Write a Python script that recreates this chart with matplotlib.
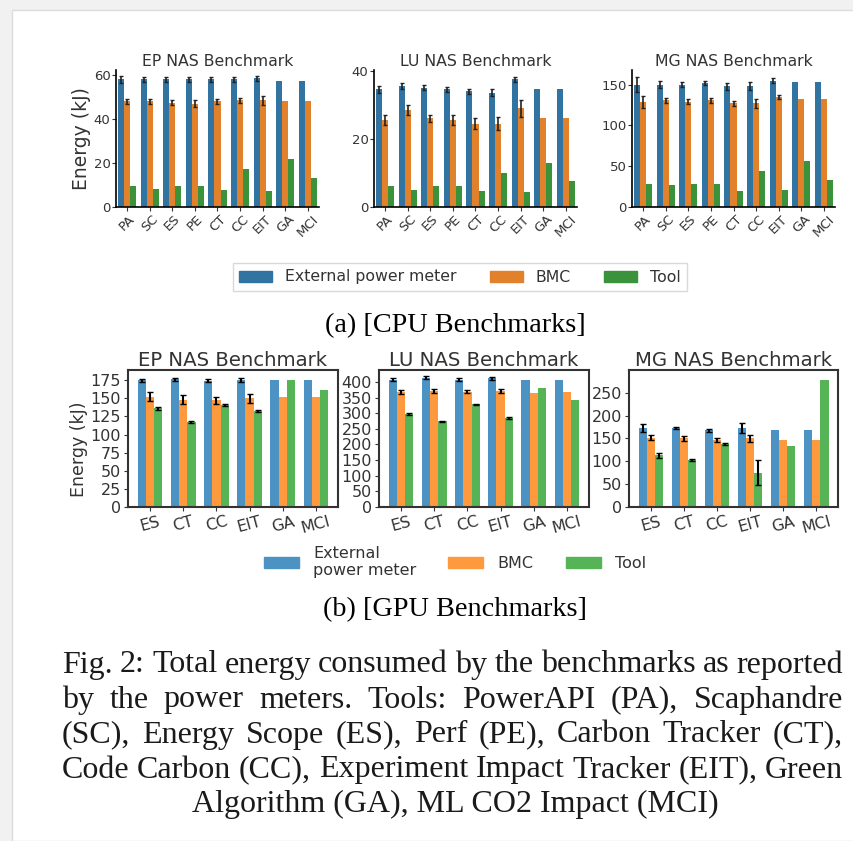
import numpy as np
import matplotlib
matplotlib.use('Agg')
import matplotlib.pyplot as plt
from matplotlib.patches import Patch, Rectangle

W, H = 854, 841

# ---- CPU benchmarks (kJ) ----
cpu_tools = ['PA', 'SC', 'ES', 'PE', 'CT', 'CC', 'EIT', 'GA', 'MCI']
cpu_titles = ['EP NAS Benchmark', 'LU NAS Benchmark', 'MG NAS Benchmark']

cpu_ep_ext = [58, 58, 58, 58, 58, 58, 58.5, 57.5, 57.5]
cpu_ep_bmc = [48, 48, 47.5, 47, 48, 48.5, 48.5, 48, 48]
cpu_ep_tool = [9.4, 8.4, 9.4, 9.4, 7.6, 17.5, 7.3, 22, 13]
cpu_ep_ext_err = [1.5, 1, 1, 1, 1, 1, 1]
cpu_ep_bmc_err = [1, 1, 1, 1.5, 1, 1, 2]

cpu_lu_ext = [34.5, 35.5, 35, 34.5, 34, 33.5, 37.5, 34.5, 34.5]
cpu_lu_bmc = [25.5, 28.5, 26, 25.5, 24.5, 24.5, 29, 26, 26]
cpu_lu_tool = [6.3, 5, 6.3, 6.3, 4.6, 10, 4.3, 13, 7.7]
cpu_lu_ext_err = [1, 1, 0.7, 0.7, 0.7, 1, 0.7]
cpu_lu_bmc_err = [1.5, 1.5, 1, 1.5, 1.5, 2, 2.5]

cpu_mg_ext = [150, 150, 150, 152, 148, 148, 155, 153, 153]
cpu_mg_bmc = [129, 131, 129, 131, 127, 127, 135, 133, 133]
cpu_mg_tool = [28, 27.5, 28, 28, 20, 44, 21, 56.5, 33]
cpu_mg_ext_err = [9, 4, 3, 3, 4, 5, 3]
cpu_mg_bmc_err = [7, 3, 3, 3, 3, 5, 2]

# ---- GPU benchmarks (kJ) ----
gpu_tools = ['ES', 'CT', 'CC', 'EIT', 'GA', 'MCI']

gpu_ep_ext = [175, 176, 174, 175, 175, 175]
gpu_ep_bmc = [152, 148, 147, 150, 152, 152]
gpu_ep_tool = [136, 117.5, 140.5, 133, 175, 162]
gpu_ep_ext_err = [2, 2, 2, 3]
gpu_ep_bmc_err = [6, 6, 5, 6]
gpu_ep_tool_err = [1.5, 1, 1, 1.5]

gpu_lu_ext = [407, 414, 407, 411, 405, 405]
gpu_lu_bmc = [368, 371, 368, 371, 364, 368]
gpu_lu_tool = [298, 274, 328, 285, 382, 343]
gpu_lu_ext_err = [5, 5, 4, 6]
gpu_lu_bmc_err = [6, 5, 5, 7]
gpu_lu_tool_err = [3, 2, 2, 3]

gpu_mg_ext = [173, 173, 168, 173, 168, 168]
gpu_mg_bmc = [152, 150, 146, 150, 146, 146]
gpu_mg_tool = [113, 103, 138, 75, 134, 278]
gpu_mg_ext_err = [8, 3, 3, 10]
gpu_mg_bmc_err = [6, 6, 4, 8]
gpu_mg_tool_err = [5, 2, 2, 27]

series_names = ['External power meter', 'BMC', 'Tool']
cpu_colors = ['#3274a1', '#e1812c', '#3a923a']
gpu_colors = ['#4c92c3', '#ff993e', '#56b356']


def px_axes(fig, left, top, right, bottom):
    return fig.add_axes([left / W, 1 - bottom / H, (right - left) / W, (bottom - top) / H])


def justified_line(fig, line, y, x0, x1, **kw):
    # place the words of one caption line so it fills x0..x1 (pixels)
    renderer = fig.canvas.get_renderer()
    words = line.split()
    texts = [fig.text(0, 1 - y / H, w, va='center', ha='left', **kw) for w in words]
    widths = [t.get_window_extent(renderer).width for t in texts]
    gap = (x1 - x0 - sum(widths)) / (len(words) - 1)
    x = x0
    for t, w in zip(texts, widths):
        t.set_x(x / W)
        x += w + gap


fig = plt.figure(figsize=(W / 100, H / 100), dpi=100)
fig.patch.set_facecolor('#f1f1f1')
fig.add_artist(Rectangle((12 / W, 0), 1, 1 - 10 / H, transform=fig.transFigure,
                         facecolor='white', edgecolor='#dcdcdc', lw=1, zorder=-5))

txt_col = '#333333'

# ---------- CPU row ----------
cpu_data = [
    (cpu_ep_ext, cpu_ep_bmc, cpu_ep_tool, cpu_ep_ext_err, cpu_ep_bmc_err, 62.3, [0, 20, 40, 60]),
    (cpu_lu_ext, cpu_lu_bmc, cpu_lu_tool, cpu_lu_ext_err, cpu_lu_bmc_err, 40.2, [0, 20, 40]),
    (cpu_mg_ext, cpu_mg_bmc, cpu_mg_tool, cpu_mg_ext_err, cpu_mg_bmc_err, 168, [0, 50, 100, 150]),
]
cpu_boxes = [(116, 319), (374, 577), (632, 835)]
x = np.arange(len(cpu_tools))
bw = 0.8 / 3
for i, (ext, bmc, tool, e_err, b_err, ytop, yt) in enumerate(cpu_data):
    ax = px_axes(fig, cpu_boxes[i][0], 70, cpu_boxes[i][1], 207)
    for k, vals in enumerate([ext, bmc, tool]):
        ax.bar(x + (k - 1) * bw, vals, bw, color=cpu_colors[k], zorder=2)
    ne = len(e_err)
    ax.errorbar(x[:ne] - bw, ext[:ne], yerr=e_err, fmt='none', ecolor='#222222',
                elinewidth=1.2, capsize=1.5, zorder=3)
    ax.errorbar(x[:ne], bmc[:ne], yerr=b_err, fmt='none', ecolor='#222222',
                elinewidth=1.2, capsize=1.5, zorder=3)
    ax.set_xlim(-0.5, len(cpu_tools) - 0.5)
    ax.set_ylim(0, ytop)
    ax.set_yticks(yt)
    ax.set_xticks(x)
    ax.set_xticklabels(cpu_tools, rotation=45)
    ax.tick_params(labelsize=9.5, colors=txt_col, length=3, pad=1)
    for s in ['top', 'right']:
        ax.spines[s].set_visible(False)
    for s in ['left', 'bottom']:
        ax.spines[s].set_linewidth(1.2)
    ax.set_title(cpu_titles[i], fontsize=11.3, color=txt_col, pad=3)
    if i == 0:
        ax.set_ylabel('Energy (kJ)', fontsize=13.5, color=txt_col, labelpad=2)

fig.legend([Patch(color=c) for c in cpu_colors], series_names, ncol=3,
           loc='center', bbox_to_anchor=(460 / W, 1 - 277 / H), fontsize=11.3,
           frameon=True, edgecolor='#d0d0d0', fancybox=False, handlelength=2.1,
           handletextpad=0.85, columnspacing=2.1, labelcolor=txt_col)

fig.text(455 / W, 1 - 326 / H, '(a) [CPU Benchmarks]', ha='center', va='center',
         fontsize=20.3, family='Liberation Serif')

# ---------- GPU row ----------
gpu_data = [
    (gpu_ep_ext, gpu_ep_bmc, gpu_ep_tool, gpu_ep_ext_err, gpu_ep_bmc_err, gpu_ep_tool_err,
     189, np.arange(0, 176, 25)),
    (gpu_lu_ext, gpu_lu_bmc, gpu_lu_tool, gpu_lu_ext_err, gpu_lu_bmc_err, gpu_lu_tool_err,
     438, np.arange(0, 401, 50)),
    (gpu_mg_ext, gpu_mg_bmc, gpu_mg_tool, gpu_mg_ext_err, gpu_mg_bmc_err, gpu_mg_tool_err,
     300, np.arange(0, 251, 50)),
]
gpu_boxes = [(128, 338), (379, 589), (629, 838)]
xg = np.arange(len(gpu_tools))
gw = 0.25
for i, (ext, bmc, tool, e_err, b_err, t_err, ytop, yt) in enumerate(gpu_data):
    ax = px_axes(fig, gpu_boxes[i][0], 370, gpu_boxes[i][1], 507)
    for k, (vals, errs) in enumerate([(ext, e_err), (bmc, b_err), (tool, t_err)]):
        ax.bar(xg + (k - 1) * gw, vals, gw, color=gpu_colors[k], zorder=2)
        ne = len(errs)
        ax.errorbar(xg[:ne] + (k - 1) * gw, vals[:ne], yerr=errs, fmt='none',
                    ecolor='black', elinewidth=1.5, capsize=2, zorder=3)
    ax.set_ylim(0, ytop)
    ax.set_yticks(yt)
    ax.set_xticks(xg)
    ax.set_xticklabels(gpu_tools, rotation=15)
    ax.tick_params(labelsize=11.5, colors=txt_col, length=3, pad=2)
    for s in ax.spines.values():
        s.set_linewidth(1.5)
        s.set_color('#333333')
    ax.set_title(cpu_titles[i], fontsize=14.2, color=txt_col, pad=3)
    if i == 0:
        ax.set_ylabel('Energy (kJ)', fontsize=12.5, color=txt_col, labelpad=2)
        ax.yaxis.set_label_coords(-0.19, 0.42)

fig.legend([Patch(color=c) for c in gpu_colors],
           ['External\npower meter', 'BMC', 'Tool'], ncol=3,
           loc='center', bbox_to_anchor=(455 / W, 1 - 562 / H), fontsize=11.5,
           frameon=False, handlelength=2.2, handletextpad=0.9, columnspacing=2.0,
           labelcolor=txt_col)

fig.text(455 / W, 1 - 610 / H, '(b) [GPU Benchmarks]', ha='center', va='center',
         fontsize=20.3, family='Liberation Serif')

# ---------- caption ----------
caption_lines = [
    'Fig. 2: Total energy consumed by the benchmarks as reported',
    'by the power meters. Tools: PowerAPI (PA), Scaphandre',
    '(SC), Energy Scope (ES), Perf (PE), Carbon Tracker (CT),',
    'Code Carbon (CC), Experiment Impact Tracker (EIT), Green',
    'Algorithm (GA), ML CO2 Impact (MCI)',
]
caption_y = [665, 700, 735, 770, 804]
for line, y in zip(caption_lines[:-1], caption_y[:-1]):
    justified_line(fig, line, y, 62, 843, fontsize=23, family='Liberation Serif',
                   color='#1a1a1a')
fig.text(455 / W, 1 - caption_y[-1] / H, caption_lines[-1], ha='center', va='center',
         fontsize=23, family='Liberation Serif', color='#1a1a1a')

fig.savefig('out.png', dpi=100, facecolor=fig.get_facecolor())
